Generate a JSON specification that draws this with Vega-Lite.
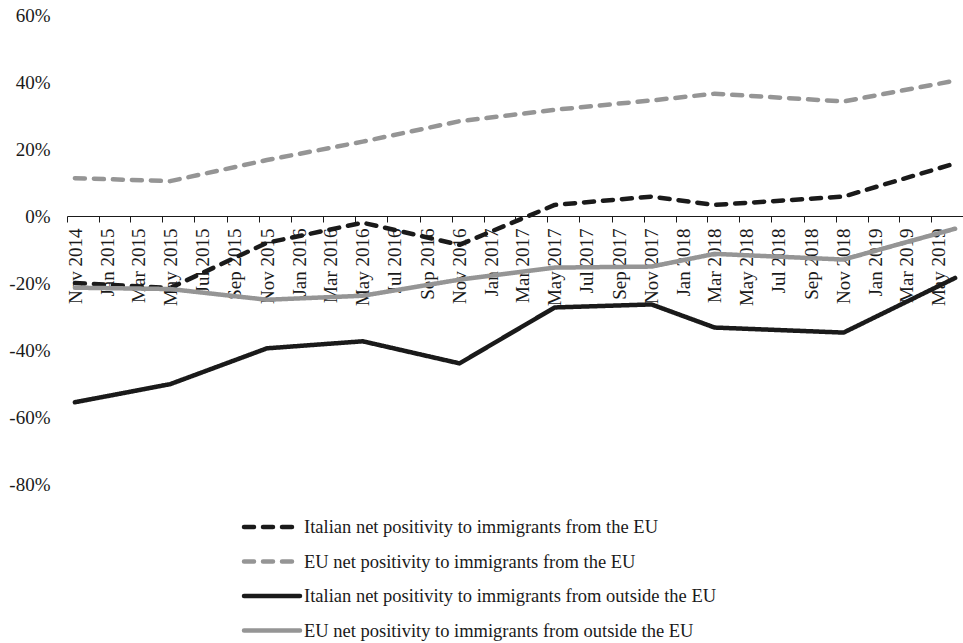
{
  "$schema": "https://vega.github.io/schema/vega-lite/v6.json",
  "width": 896,
  "height": 469,
  "autosize": "none",
  "padding": {"left": 67, "top": 15, "right": 0, "bottom": 159},
  "background": "white",
  "config": {
    "view": {"stroke": null},
    "font": "'Liberation Serif', 'Times New Roman', serif",
    "legend": {
      "orient": "none",
      "legendX": 185,
      "legendY": 492,
      "direction": "vertical",
      "title": null,
      "padding": 0,
      "rowPadding": 4.5,
      "symbolType": "M-1.6,0H1.6",
      "symbolSize": 1225,
      "symbolStrokeWidth": 4.5,
      "labelOffset": 12,
      "labelFont": "'Liberation Serif', 'Times New Roman', serif",
      "labelFontSize": 18.5,
      "labelColor": "#1a1a1a",
      "labelLimit": 0
    }
  },
  "data": {
    "values": [
      {"series": "Italian net positivity to immigrants from the EU", "date": "2014/11/16", "value": -0.20},
      {"series": "Italian net positivity to immigrants from the EU", "date": "2015/05/16", "value": -0.215},
      {"series": "Italian net positivity to immigrants from the EU", "date": "2015/11/16", "value": -0.08},
      {"series": "Italian net positivity to immigrants from the EU", "date": "2016/05/16", "value": -0.02},
      {"series": "Italian net positivity to immigrants from the EU", "date": "2016/11/16", "value": -0.086},
      {"series": "Italian net positivity to immigrants from the EU", "date": "2017/05/16", "value": 0.033},
      {"series": "Italian net positivity to immigrants from the EU", "date": "2017/11/16", "value": 0.058},
      {"series": "Italian net positivity to immigrants from the EU", "date": "2018/03/16", "value": 0.033},
      {"series": "Italian net positivity to immigrants from the EU", "date": "2018/11/16", "value": 0.058},
      {"series": "Italian net positivity to immigrants from the EU", "date": "2019/06/16", "value": 0.157},

      {"series": "EU net positivity to immigrants from the EU", "date": "2014/11/16", "value": 0.113},
      {"series": "EU net positivity to immigrants from the EU", "date": "2015/05/16", "value": 0.104},
      {"series": "EU net positivity to immigrants from the EU", "date": "2015/11/16", "value": 0.167},
      {"series": "EU net positivity to immigrants from the EU", "date": "2016/05/16", "value": 0.222},
      {"series": "EU net positivity to immigrants from the EU", "date": "2016/11/16", "value": 0.283},
      {"series": "EU net positivity to immigrants from the EU", "date": "2017/05/16", "value": 0.317},
      {"series": "EU net positivity to immigrants from the EU", "date": "2017/11/16", "value": 0.345},
      {"series": "EU net positivity to immigrants from the EU", "date": "2018/03/16", "value": 0.365},
      {"series": "EU net positivity to immigrants from the EU", "date": "2018/11/16", "value": 0.342},
      {"series": "EU net positivity to immigrants from the EU", "date": "2019/06/16", "value": 0.404},

      {"series": "Italian net positivity to immigrants from outside the EU", "date": "2014/11/16", "value": -0.556},
      {"series": "Italian net positivity to immigrants from outside the EU", "date": "2015/05/16", "value": -0.502},
      {"series": "Italian net positivity to immigrants from outside the EU", "date": "2015/11/16", "value": -0.395},
      {"series": "Italian net positivity to immigrants from outside the EU", "date": "2016/05/16", "value": -0.374},
      {"series": "Italian net positivity to immigrants from outside the EU", "date": "2016/11/16", "value": -0.44},
      {"series": "Italian net positivity to immigrants from outside the EU", "date": "2017/05/16", "value": -0.273},
      {"series": "Italian net positivity to immigrants from outside the EU", "date": "2017/11/16", "value": -0.264},
      {"series": "Italian net positivity to immigrants from outside the EU", "date": "2018/03/16", "value": -0.333},
      {"series": "Italian net positivity to immigrants from outside the EU", "date": "2018/11/16", "value": -0.348},
      {"series": "Italian net positivity to immigrants from outside the EU", "date": "2019/06/16", "value": -0.185},

      {"series": "EU net positivity to immigrants from outside the EU", "date": "2014/11/16", "value": -0.214},
      {"series": "EU net positivity to immigrants from outside the EU", "date": "2015/05/16", "value": -0.218},
      {"series": "EU net positivity to immigrants from outside the EU", "date": "2015/11/16", "value": -0.25},
      {"series": "EU net positivity to immigrants from outside the EU", "date": "2016/05/16", "value": -0.238},
      {"series": "EU net positivity to immigrants from outside the EU", "date": "2016/11/16", "value": -0.19},
      {"series": "EU net positivity to immigrants from outside the EU", "date": "2017/05/16", "value": -0.154},
      {"series": "EU net positivity to immigrants from outside the EU", "date": "2017/11/16", "value": -0.151},
      {"series": "EU net positivity to immigrants from outside the EU", "date": "2018/03/16", "value": -0.113},
      {"series": "EU net positivity to immigrants from outside the EU", "date": "2018/11/16", "value": -0.13},
      {"series": "EU net positivity to immigrants from outside the EU", "date": "2019/06/16", "value": -0.038}
    ]
  },
  "mark": {"type": "line", "strokeWidth": 4.5, "strokeCap": "round", "strokeJoin": "round"},
  "encoding": {
    "x": {
      "field": "date",
      "type": "temporal",
      "scale": {
        "domain": [{"year": 2014, "month": 11, "date": 1}, {"year": 2019, "month": 6, "date": 30, "hours": 23}],
        "nice": false
      },
      "axis": {
        "title": null,
        "offset": -268,
        "grid": false,
        "tickCount": {"interval": "month", "step": 2},
        "format": "%b %Y",
        "labelAngle": 270,
        "labelAlign": "right",
        "labelBaseline": "middle",
        "labelOffset": 8,
        "labelPadding": 6,
        "labelOverlap": false,
        "labelFlush": false,
        "labelBound": false,
        "labelFont": "'Liberation Serif', 'Times New Roman', serif",
        "labelFontSize": 19,
        "labelColor": "#1a1a1a",
        "tickSize": 6,
        "tickColor": "#1a1a1a",
        "tickWidth": 1,
        "domainColor": "#1a1a1a",
        "domainWidth": 1
      }
    },
    "y": {
      "field": "value",
      "type": "quantitative",
      "scale": {"domain": [-0.8, 0.6], "nice": false, "zero": false},
      "axis": {
        "title": null,
        "grid": false,
        "domain": false,
        "ticks": false,
        "values": [-0.8, -0.6, -0.4, -0.2, 0, 0.2, 0.4, 0.6],
        "labelExpr": "round(datum.value * 100) + '%'",
        "labelPadding": 17,
        "labelFont": "'Liberation Serif', 'Times New Roman', serif",
        "labelFontSize": 19,
        "labelColor": "#1a1a1a"
      }
    },
    "color": {
      "field": "series",
      "type": "nominal",
      "scale": {
        "domain": [
          "Italian net positivity to immigrants from the EU",
          "EU net positivity to immigrants from the EU",
          "Italian net positivity to immigrants from outside the EU",
          "EU net positivity to immigrants from outside the EU"
        ],
        "range": ["#1a1a1a", "#959595", "#1a1a1a", "#959595"]
      },
      "legend": {"encode": {"symbols": {"update": {"strokeCap": {"value": "round"}}}}}
    },
    "strokeDash": {
      "field": "series",
      "type": "nominal",
      "scale": {
        "domain": [
          "Italian net positivity to immigrants from the EU",
          "EU net positivity to immigrants from the EU",
          "Italian net positivity to immigrants from outside the EU",
          "EU net positivity to immigrants from outside the EU"
        ],
        "range": [[10, 9], [10, 9], [1, 0], [1, 0]]
      },
      "legend": {"encode": {"symbols": {"update": {"strokeCap": {"value": "round"}}}}}
    }
  }
}
